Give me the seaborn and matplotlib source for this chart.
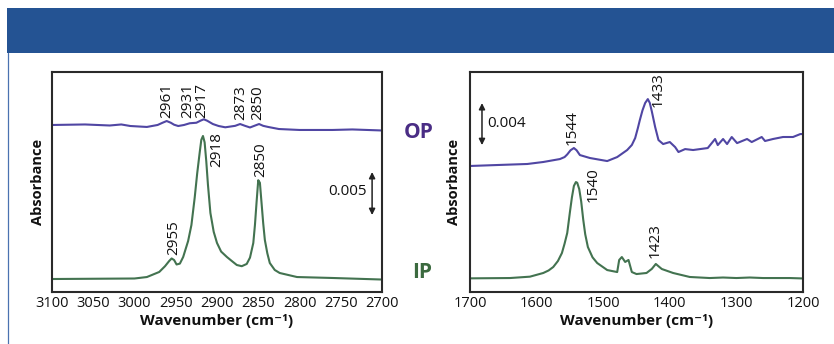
import matplotlib
matplotlib.use("Agg")
import matplotlib.pyplot as plt
from matplotlib.patches import Rectangle
from matplotlib.lines import Line2D
import seaborn as sns
import pandas as pd

# ---------------- data ----------------
# Left panel: C-H stretching region
wn_op_l = [3100, 3060, 3030, 3016, 3005, 2985, 2972, 2966, 2961, 2956, 2952, 2947,
           2940, 2933, 2925, 2920, 2916, 2912, 2905, 2898, 2890, 2878, 2872, 2866,
           2860, 2854, 2849, 2844, 2838, 2825, 2800, 2760, 2736, 2700]
ab_op_l = [0.01942, 0.01948, 0.01936, 0.01948, 0.01930, 0.01919, 0.01942, 0.01968,
           0.01988, 0.01968, 0.01945, 0.01930, 0.01942, 0.01962, 0.01968, 0.01992,
           0.02008, 0.01992, 0.01953, 0.01930, 0.01915, 0.01932, 0.01953, 0.01932,
           0.01913, 0.01935, 0.01953, 0.01932, 0.01919, 0.01895, 0.01884, 0.01884,
           0.01890, 0.01878]

wn_ip_l = [3100, 3000, 2985, 2970, 2963, 2958, 2955, 2952, 2949, 2945, 2941, 2935,
           2931, 2927, 2924, 2921, 2919, 2917, 2915, 2913, 2911, 2908, 2904, 2900,
           2895, 2888, 2882, 2876, 2870, 2864, 2860, 2856, 2854, 2852, 2850, 2848,
           2846, 2844, 2842, 2839, 2836, 2830, 2824, 2803, 2760, 2700]
ab_ip_l = [0.00151, 0.00157, 0.00174, 0.00233, 0.00300, 0.00360, 0.00390, 0.00372,
           0.00320, 0.00330, 0.00407, 0.00593, 0.00779, 0.01100, 0.01380, 0.01620,
           0.01770, 0.01814, 0.01740, 0.01520, 0.01250, 0.00919, 0.00700, 0.00570,
           0.00470, 0.00407, 0.00360, 0.00314, 0.00300, 0.00326, 0.00400, 0.00570,
           0.00780, 0.01050, 0.01300, 0.01270, 0.01035, 0.00800, 0.00605, 0.00450,
           0.00337, 0.00256, 0.00221, 0.00174, 0.00163, 0.00145]

# Right panel: 1700-1200 region
wn_op_r = [1700, 1660, 1614, 1590, 1565, 1558, 1554, 1549, 1544, 1540, 1535, 1520,
           1494, 1479, 1464, 1457, 1452, 1448, 1445, 1441, 1437, 1433, 1430, 1427,
           1422, 1417, 1410, 1400, 1392, 1387, 1377, 1365, 1343, 1332, 1328, 1320,
           1314, 1307, 1299, 1284, 1277, 1262, 1257, 1245, 1230, 1215, 1204, 1200]
ab_op_r = [0.01200, 0.01209, 0.01219, 0.01238, 0.01266, 0.01285, 0.01310, 0.01350,
           0.01371, 0.01350, 0.01304, 0.01276, 0.01247, 0.01285, 0.01352, 0.01400,
           0.01466, 0.01560, 0.01637, 0.01730, 0.01800, 0.01837, 0.01800, 0.01720,
           0.01571, 0.01447, 0.01409, 0.01428, 0.01380, 0.01333, 0.01361, 0.01352,
           0.01371, 0.01457, 0.01399, 0.01457, 0.01409, 0.01476, 0.01418, 0.01457,
           0.01428, 0.01476, 0.01438, 0.01457, 0.01476, 0.01476, 0.01504, 0.01504]

wn_ip_r = [1700, 1640, 1610, 1590, 1582, 1575, 1568, 1562, 1558, 1554, 1550, 1547,
           1544, 1541, 1539, 1536, 1533, 1530, 1527, 1523, 1516, 1509, 1494, 1479,
           1476, 1472, 1467, 1462, 1457, 1450, 1435, 1427, 1421, 1416, 1412, 1395,
           1370, 1340, 1320, 1300, 1280, 1260, 1240, 1220, 1200]
ab_ip_r = [0.00130, 0.00133, 0.00146, 0.00181, 0.00205, 0.00238, 0.00295, 0.00371,
           0.00460, 0.00562, 0.00760, 0.00900, 0.01010, 0.01047, 0.01040, 0.00980,
           0.00860, 0.00690, 0.00550, 0.00428, 0.00330, 0.00276, 0.00209, 0.00190,
           0.00305, 0.00333, 0.00286, 0.00305, 0.00190, 0.00171, 0.00181, 0.00220,
           0.00267, 0.00240, 0.00219, 0.00181, 0.00143, 0.00133, 0.00138, 0.00133,
           0.00138, 0.00133, 0.00133, 0.00133, 0.00129]

# peak labels: (text, wavenumber position, absorbance position, vertical alignment)
labels_l = [("2961", 2961, 0.02023, "bottom"), ("2931", 2936, 0.02023, "bottom"),
            ("2917", 2918, 0.02023, "bottom"), ("2873", 2871, 0.02000, "bottom"),
            ("2850", 2850, 0.02000, "bottom"), ("2918", 2900, 0.01860, "top"),
            ("2850", 2847, 0.01744, "top"), ("2955", 2953, 0.00430, "bottom")]
labels_r = [("1544", 1546, 0.01399, "bottom"), ("1433", 1417, 0.01761, "bottom"),
            ("1540", 1515, 0.01190, "top"), ("1423", 1422, 0.00324, "bottom")]

xticks_l = [3100, 3050, 3000, 2950, 2900, 2850, 2800, 2750, 2700]
xticks_r = [1700, 1600, 1500, 1400, 1300, 1200]

OP_COLOR = "#5046a3"
IP_COLOR = "#437350"

# ---------------- style ----------------
sns.set_theme(style="white")
plt.rcParams["font.family"] = ["Open Sans", "DejaVu Sans"]
plt.rcParams["axes.edgecolor"] = "#2a2a2a"
plt.rcParams["axes.linewidth"] = 1.5

W, H = 834, 344
fig = plt.figure(figsize=(W / 100, H / 100), dpi=100)
fig.patch.set_facecolor("white")

# banner and left border
fig.patches.append(Rectangle((7 / W, 1 - 53 / H), 1 - 7 / W, 45 / H,
                             transform=fig.transFigure, facecolor="#245393",
                             edgecolor="none", zorder=0))
fig.lines.append(Line2D([7.5 / W, 7.5 / W], [0, 1 - 53 / H], transform=fig.transFigure,
                        color="#4a72b0", lw=0.9))

ax_l = fig.add_axes([52 / W, 1 - 292 / H, 330 / W, 220 / H])
ax_r = fig.add_axes([470 / W, 1 - 292 / H, 333 / W, 220 / H])

def draw(ax, wn_op, ab_op, wn_ip, ab_ip):
    df_op = pd.DataFrame({"wn": wn_op, "A": ab_op})
    df_ip = pd.DataFrame({"wn": wn_ip, "A": ab_ip})
    sns.lineplot(data=df_op, x="wn", y="A", ax=ax, color=OP_COLOR, lw=1.5,
                 sort=False, estimator=None)
    sns.lineplot(data=df_ip, x="wn", y="A", ax=ax, color=IP_COLOR, lw=1.5,
                 sort=False, estimator=None)

draw(ax_l, wn_op_l, ab_op_l, wn_ip_l, ab_ip_l)
draw(ax_r, wn_op_r, ab_op_r, wn_ip_r, ab_ip_r)

ax_l.set_xlim(3100, 2700)
ax_l.set_ylim(0, 0.02558)
ax_r.set_xlim(1700, 1200)
ax_r.set_ylim(0, 0.02095)

for ax, ticks in ((ax_l, xticks_l), (ax_r, xticks_r)):
    ax.set_xticks(ticks)
    ax.set_xticklabels([str(t) for t in ticks])
    ax.set_yticks([])
    ax.tick_params(axis="x", direction="in", length=5, width=1.1, color="#2a2a2a",
                   labelsize=10.5, pad=3, labelcolor="#111111")
    ax.set_xlabel("Wavenumber (cm⁻¹)", fontsize=11, fontweight="bold",
                  color="#111111", labelpad=2)
    ax.set_ylabel("Absorbance", fontsize=10.5, fontweight="bold", color="#111111")
    for s in ax.spines.values():
        s.set_visible(True)

ax_l.yaxis.set_label_coords(-0.021, 0.5)
ax_r.yaxis.set_label_coords(-0.027, 0.5)

for ax, labs in ((ax_l, labels_l), (ax_r, labels_r)):
    for txt, x, y, va in labs:
        ax.text(x, y, txt, rotation=90, ha="center", va=va, fontsize=11,
                color="#111111")

# scale bars
ax_l.annotate("", xy=(2712, 0.01395), xytext=(2712, 0.00895),
              arrowprops=dict(arrowstyle="<|-|>", color="#222222", lw=1.1,
                              mutation_scale=9, shrinkA=0, shrinkB=0))
ax_l.text(2718, 0.01163, "0.005", ha="right", va="center", fontsize=11,
          color="#111111")
ax_r.annotate("", xy=(1682, 0.01799), xytext=(1682, 0.01399),
              arrowprops=dict(arrowstyle="<|-|>", color="#222222", lw=1.1,
                              mutation_scale=9, shrinkA=0, shrinkB=0))
ax_r.text(1674, 0.01609, "0.004", ha="left", va="center", fontsize=11,
          color="#111111")

# OP / IP labels
fig.text(419 / W, 1 - 133 / H, "OP", ha="center", va="center", fontsize=15,
         fontweight="bold", color="#4a2d85")
fig.text(422 / W, 1 - 272 / H, "IP", ha="center", va="center", fontsize=15,
         fontweight="bold", color="#3b6a3f")

fig.savefig("out.png", dpi=100)
